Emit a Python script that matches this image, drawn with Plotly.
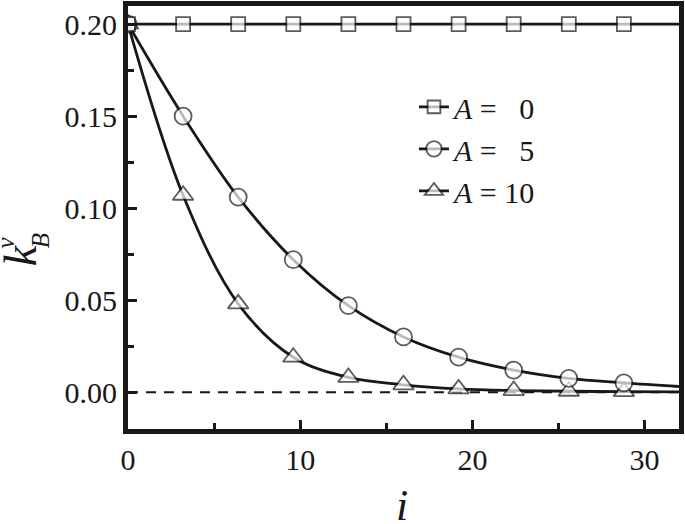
import plotly.graph_objects as go

# ---- data ----
i_marks = [0, 3.2, 6.4, 9.6, 12.8, 16.0, 19.2, 22.4, 25.6, 28.8]
i_end = 32
kB_A0 = [0.200, 0.200, 0.200, 0.200, 0.200, 0.200, 0.200, 0.200, 0.200, 0.200]
kB_A5 = [0.200, 0.150, 0.106, 0.072, 0.047, 0.030, 0.019, 0.012, 0.0075, 0.0051]
kB_A10 = [0.200, 0.107, 0.048, 0.019, 0.008, 0.0040, 0.0018, 0.0009, 0.0005, 0.0003]
kB_end = {"A0": 0.200, "A5": 0.0031, "A10": 0.0002}
legend_labels = ["<i>A</i> =\u00a0\u00a0\u00a00", "<i>A</i> =\u00a0\u00a0\u00a05", "<i>A</i> = 10"]
x_ticks = [0, 10, 20, 30]
y_ticks = [0.00, 0.05, 0.10, 0.15, 0.20]

INK = "#1a1718"
FONT = "Liberation Serif"

series = [
    ("A10", kB_A10, "triangle-up", 18, legend_labels[2]),
    ("A5", kB_A5, "circle", 17, legend_labels[1]),
    ("A0", kB_A0, "square", 14, legend_labels[0]),
]

fig = go.Figure()
for key, vals, sym, sz, lab in series:
    xs = i_marks + [i_end]
    ys = vals + [kB_end[key]]
    sizes = [sz] * len(i_marks) + [0]
    fig.add_trace(go.Scatter(
        x=xs, y=ys, mode="lines+markers", name=lab,
        line=dict(color=INK, width=2.8, shape="spline", smoothing=1.0),
        marker=dict(symbol=sym, size=sizes, color="white",
                    line=dict(color=INK, width=1.8)),
    ))

fig.add_hline(y=0, line=dict(color=INK, width=2, dash="10px,8px"), layer="below")

axis_common = dict(
    showline=True, linecolor=INK, linewidth=5, mirror=True,
    ticks="inside", ticklen=9, tickwidth=3, tickcolor=INK,
    showgrid=False, zeroline=False,
    tickfont=dict(family=FONT, size=30, color=INK),
)

fig.update_xaxes(range=[0, 32], tickvals=x_ticks,
                 minor=dict(ticks="inside", dtick=5, ticklen=6, tickwidth=3, tickcolor=INK),
                 **axis_common)
fig.update_yaxes(range=[-0.02, 0.2098], tickvals=y_ticks, tickformat=".2f",
                 minor=dict(ticks="inside", dtick=0.025, ticklen=6, tickwidth=3, tickcolor=INK),
                 **axis_common)

fig.update_layout(
    width=685, height=524,
    margin=dict(l=128, r=1, t=1, b=95),
    plot_bgcolor="white", paper_bgcolor="white",
    font=dict(family=FONT, color=INK),
    showlegend=True,
    legend=dict(x=0.519, y=0.823, xanchor="left", yanchor="top",
                traceorder="reversed", bgcolor="rgba(0,0,0,0)",
                font=dict(family=FONT, size=30, color=INK)),
    annotations=[
        dict(text="<i>k</i>", xref="paper", yref="paper", x=-0.195, y=0.410,
             xanchor="center", yanchor="middle",
             showarrow=False, textangle=-90, font=dict(family=FONT, size=46, color=INK)),
        dict(text="<i>B</i>", xref="paper", yref="paper", x=-0.159, y=0.445,
             xanchor="center", yanchor="middle",
             showarrow=False, textangle=-90, font=dict(family=FONT, size=25, color=INK)),
        dict(text="<i>v</i>", xref="paper", yref="paper", x=-0.222, y=0.440,
             xanchor="center", yanchor="middle",
             showarrow=False, textangle=-90, font=dict(family=FONT, size=25, color=INK)),
        dict(text="<i>i</i>", xref="paper", yref="paper", x=0.498, y=-0.180,
             xanchor="center", yanchor="middle",
             showarrow=False, font=dict(family=FONT, size=44, color=INK)),
    ],
)

fig.write_html("out.html", config={"displayModeBar": False},
               post_script="document.body.style.margin='0';document.body.style.padding='0';")
